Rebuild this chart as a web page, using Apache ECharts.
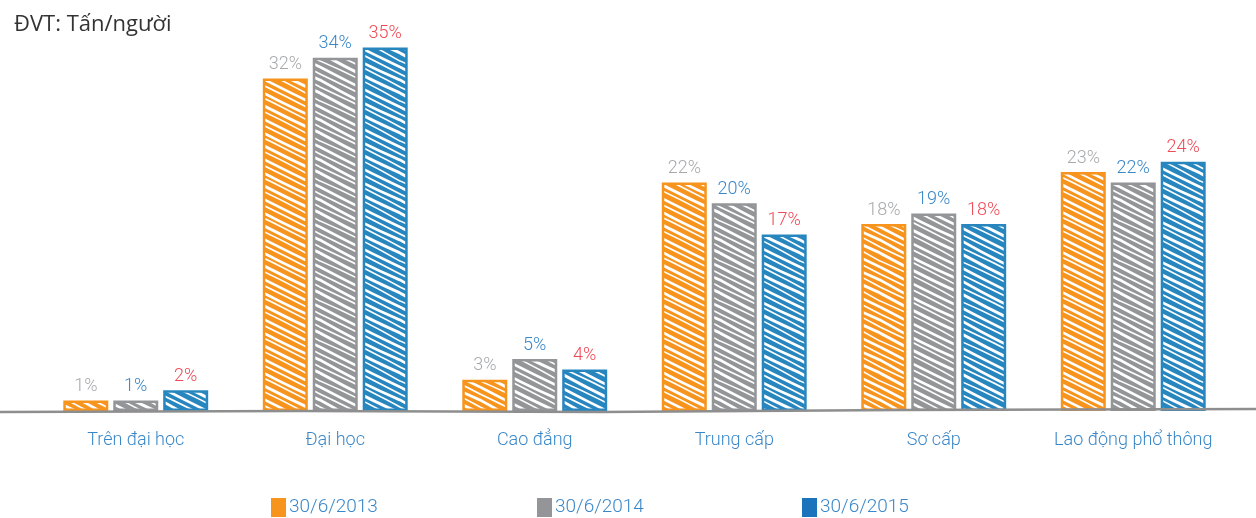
<!DOCTYPE html>
<html>
<head>
<meta charset="utf-8">
<script src="https://cdn.jsdelivr.net/npm/echarts@6/dist/echarts.min.js"></script>
<style>
  html, body { margin: 0; padding: 0; background: #fff; }
  #chart { width: 1256px; height: 518px; }
</style>
</head>
<body>
<div id="chart"></div>
<script>
// Trình độ chuyên môn của lao động (tỷ lệ %)
const categories = ['Trên đại học', 'Đại học', 'Cao đẳng', 'Trung cấp', 'Sơ cấp', 'Lao động phổ thông'];
const seriesNames = ['30/6/2013', '30/6/2014', '30/6/2015'];
const values2013 = [1, 32, 3, 22, 18, 23];
const values2014 = [1, 34, 5, 20, 19, 22];
const values2015 = [2, 35, 4, 17, 18, 24];

const barColors = ['#f7941d', '#939598', '#2886bf'];
const legendColors = ['#f7941d', '#939598', '#1b74bb'];
const labelColors = ['#a7a9ac', '#3a87c8', '#ef4a56'];
const narrowFont = "Roboto, sans-serif";

// Hand-drawn hatch fill: coloured base with white diagonal scribbles.
// Each stroke drops exactly one tile height across the tile width so the
// pattern tiles without seams in both directions.
function makeHatch(color) {
  const W = 80, H = 40;
  const c = document.createElement('canvas');
  c.width = W; c.height = H;
  const g = c.getContext('2d');
  g.fillStyle = color;
  g.fillRect(0, 0, W, H);
  g.strokeStyle = '#ffffff';
  g.lineCap = 'round';
  const strokes = [
    { y: 0, w: 2.8, bend: 3 },
    { y: 7, w: 1.6, bend: -2 },
    { y: 13, w: 3.0, bend: 2 },
    { y: 21, w: 1.5, bend: -3 },
    { y: 27, w: 2.6, bend: 1 },
    { y: 34, w: 1.8, bend: -1 }
  ];
  strokes.forEach(s => {
    for (let k = -2; k <= 1; k++) {
      const y0 = s.y + k * H;
      g.lineWidth = s.w;
      g.beginPath();
      g.moveTo(0, y0);
      g.quadraticCurveTo(W / 2, y0 + H / 2 + s.bend, W, y0 + H);
      g.stroke();
    }
  });
  return c;
}

const chart = echarts.init(document.getElementById('chart'), null, { renderer: 'canvas' });

const allValues = [values2013, values2014, values2015];

const series = allValues.map((vals, i) => ({
  name: seriesNames[i],
  type: 'bar',
  data: vals,
  barWidth: 45,
  barGap: '11%',
  itemStyle: {
    color: { image: makeHatch(barColors[i]), repeat: 'repeat' },
    borderColor: barColors[i],
    borderWidth: 2.5
  },
  label: {
    show: true,
    position: 'top',
    distance: 5,
    formatter: '{c}%',
    color: labelColors[i],
    fontFamily: narrowFont,
    fontWeight: 300,
    fontSize: 18
  }
}));

const legends = seriesNames.map((name, i) => ({
  data: [{ name: name, itemStyle: { color: legendColors[i], borderWidth: 0 } }],
  left: [266, 532, 797][i],
  top: 493,
  icon: 'rect',
  itemWidth: 15,
  itemHeight: 19,
  itemGap: 4,
  selectedMode: false,
  textStyle: { color: '#3a87c8', fontFamily: narrowFont, fontWeight: 300, fontSize: 19, padding: [0, 0, 0, -2] }
}));

chart.setOption({
  animation: false,
  backgroundColor: '#ffffff',
  title: {
    text: 'ĐVT: Tấn/người',
    left: 9,
    top: 9,
    textStyle: { color: '#333333', fontFamily: "'Open Sans', sans-serif", fontWeight: 'normal', fontSize: 22 }
  },
  legend: legends,
  grid: { left: 36, right: 23, top: 37, bottom: 107 },
  xAxis: {
    type: 'category',
    data: categories,
    axisLine: { show: false },
    axisTick: { show: false },
    axisLabel: { interval: 0, color: '#3a87c8', fontFamily: narrowFont, fontWeight: 300, fontSize: 18, margin: 20 }
  },
  yAxis: {
    type: 'value',
    min: 0,
    max: 36,
    show: false,
    splitLine: { show: false }
  },
  series: series
});

// Baseline stroke running across the full width at value 0
const baseY = chart.convertToPixel({ yAxisIndex: 0 }, 0);
chart.setOption({
  graphic: [{
    type: 'polyline',
    silent: true,
    z: 10,
    shape: { points: [[0, baseY + 1], [300, baseY], [600, baseY + 1], [900, baseY - 1], [1256, baseY - 2]] },
    style: { stroke: '#8e8e8e', lineWidth: 2.5, fill: null }
  }]
});
</script>
</body>
</html>
